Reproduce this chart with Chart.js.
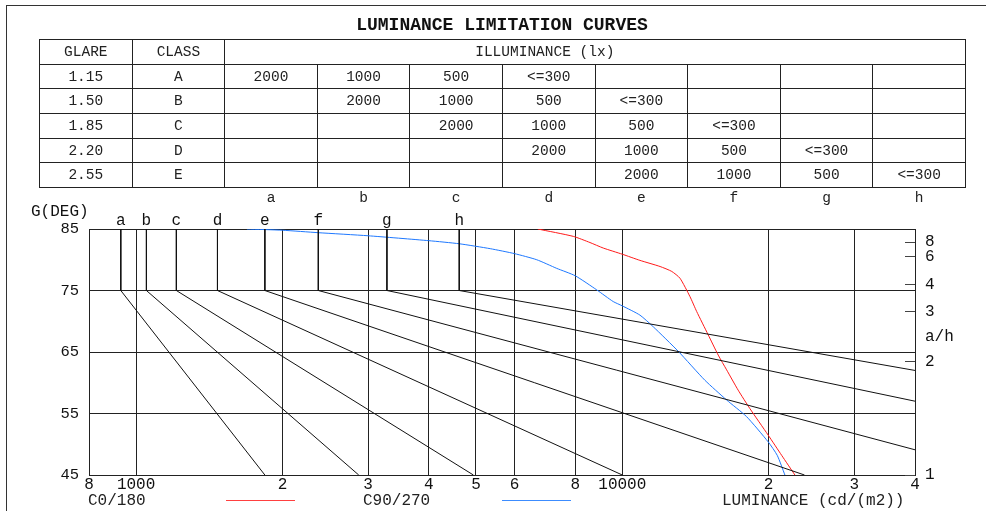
<!DOCTYPE html>
<html>
<head>
<meta charset="utf-8">
<script src="https://cdn.jsdelivr.net/npm/chart.js@4.4.1/dist/chart.umd.min.js"></script>
<style>
  html, body { margin: 0; padding: 0; background: #fff; overflow: hidden; }
  body { width: 986px; height: 511px; position: relative; font-family: "Liberation Mono", "Courier New", monospace; color: #111; }
  #frame { position: absolute; left: 6px; top: 5px; width: 1000px; height: 520px; border: 1px solid #333; }
  #title { position: absolute; left: 39px; top: 15px; width: 926px; text-align: center; font-size: 18px; font-weight: bold; line-height: 20px; }
  #glare { position: absolute; left: 39px; top: 39px; width: 927px; border-collapse: collapse; table-layout: fixed; font-size: 14.5px; color: #222; }
  #glare td { border: 1px solid #222; text-align: center; padding: 0; height: 23.7px; line-height: 16px; }
  #glare td.head { text-align: left; padding-left: 250px; }
  #glare tr.letters td { border: none; height: 20px; }
  #chartBox { position: absolute; left: 0; top: 0; width: 986px; height: 511px; }
  .leg { position: absolute; top: 492px; font-size: 16px; line-height: 18px; color: #222; }
  .legline { position: absolute; top: 500px; height: 0; border-top: 1px solid; }
</style>
</head>
<body>
<div id="frame"></div>
<div id="chartBox"><canvas id="sollner" width="986" height="511"></canvas></div>
<div id="title">LUMINANCE LIMITATION CURVES</div>
<table id="glare"></table>
<div class="leg" style="left:88px">C0/180</div>
<div class="legline" style="left:226px;width:69px;border-color:#ff4040"></div>
<div class="leg" style="left:363px">C90/270</div>
<div class="legline" style="left:502px;width:69px;border-color:#3c8cff"></div>
<div class="leg" style="left:722px">LUMINANCE (cd/(m2))</div>
<script>
/* ---------- table data ---------- */
const glareValues = ['1.15', '1.50', '1.85', '2.20', '2.55'];
const glareClasses = ['A', 'B', 'C', 'D', 'E'];
const illumRows = [
  ['2000', '1000', '500', '<=300', '', '', '', ''],
  ['', '2000', '1000', '500', '<=300', '', '', ''],
  ['', '', '2000', '1000', '500', '<=300', '', ''],
  ['', '', '', '2000', '1000', '500', '<=300', ''],
  ['', '', '', '', '2000', '1000', '500', '<=300']
];
const curveLetters = ['a', 'b', 'c', 'd', 'e', 'f', 'g', 'h'];

/* ---------- limit lines a..h (luminance at 75-85 deg, end point of slope) ---------- */
const limitLum = [930, 1050, 1210, 1470, 1840, 2370, 3280, 4620];
const limitEndLum = [1840, 2870, 4940, 10000, 23700, 40000, 40000, 40000];
const limitEndDeg = [45, 45, 45, 45, 45, 49.1, 57.0, 62.0];

/* ---------- luminance curves ---------- */
const c0Lum = [6700, 7930, 8580, 9140, 10000, 10870, 11960, 12640, 13140, 13780, 14220, 15020, 15750, 16390, 17310, 18300, 19950, 21270, 22650];
const c0Deg = [85, 83.8, 82.8, 81.9, 80.9, 79.9, 78.9, 78.1, 77.0, 74.0, 71.6, 67.8, 64.5, 62.1, 58.8, 55.8, 51.5, 48.2, 45];
const c90Lum = [1690, 2000, 2370, 3000, 4000, 4620, 5350, 6000, 6670, 7330, 8000, 8860, 9580, 10000, 10870, 11580, 13040, 14790, 16390, 18010, 19950, 20830, 21600];
const c90Deg = [85, 84.8, 84.4, 83.9, 83.1, 82.6, 81.8, 81.0, 80.0, 78.6, 77.4, 75.1, 73.2, 72.5, 71.0, 69.1, 65.1, 60.4, 57.2, 54.5, 50.4, 48.2, 45];

/* ---------- axes ---------- */
const xTicks = [800, 1000, 2000, 3000, 4000, 5000, 6000, 8000, 10000, 20000, 30000, 40000];
const xTickLabels = ['8', '1000', '2', '3', '4', '5', '6', '8', '10000', '2', '3', '4'];
const ahTicks = [1, 2, 3, 4, 6, 8];

// build the table
const table = document.getElementById('glare');
let html = '<tr><td>GLARE</td><td>CLASS</td><td class="head" colspan="8">ILLUMINANCE (lx)</td></tr>';
glareValues.forEach((g, i) => {
  html += '<tr><td>' + g + '</td><td>' + glareClasses[i] + '</td>' +
    illumRows[i].map(v => '<td>' + v.replace('<', '&lt;') + '</td>').join('') + '</tr>';
});
html += '<tr class="letters"><td></td><td></td>' + curveLetters.map(l => '<td>' + l + '</td>').join('') + '</tr>';
table.innerHTML = html;

const FONT = '"Liberation Mono", "Courier New", monospace';
const INK = '#111';

const limitSets = curveLetters.map((l, i) => ({
  label: l,
  data: [
    { x: limitLum[i], y: 85 },
    { x: limitLum[i], y: 75 },
    { x: limitEndLum[i], y: limitEndDeg[i] }
  ],
  borderColor: INK,
  borderWidth: 1,
  pointRadius: 0,
  showLine: true
}));

const topLetters = {
  id: 'topLetters',
  afterDraw(chart) {
    const { ctx, chartArea, scales } = chart;
    ctx.save();
    ctx.font = '16px ' + FONT;
    ctx.fillStyle = INK;
    ctx.textAlign = 'center';
    ctx.textBaseline = 'middle';
    curveLetters.forEach((l, i) => {
      ctx.fillText(l, scales.x.getPixelForValue(limitLum[i]), chartArea.top - 8);
    });
    ctx.textAlign = 'left';
    ctx.fillText('G(DEG)', 31, chartArea.top - 17);
    ctx.restore();
  }
};

const ahDeg = ahTicks.map(n => Math.atan(n) * 180 / Math.PI);

new Chart(document.getElementById('sollner').getContext('2d'), {
  type: 'scatter',
  data: {
    datasets: [
      ...limitSets,
      {
        label: 'C0/180',
        data: c0Lum.map((v, i) => ({ x: v, y: c0Deg[i] })),
        borderColor: '#ff1a1a',
        borderWidth: 1,
        pointRadius: 0,
        showLine: true,
        tension: 0.2
      },
      {
        label: 'C90/270',
        data: c90Lum.map((v, i) => ({ x: v, y: c90Deg[i] })),
        borderColor: '#1e78ff',
        borderWidth: 1,
        pointRadius: 0,
        showLine: true,
        tension: 0.2
      }
    ]
  },
  options: {
    responsive: false,
    animation: false,
    layout: { padding: { left: 0, right: 0, top: 229, bottom: 16 } },
    plugins: { legend: { display: false }, tooltip: { enabled: false } },
    scales: {
      x: {
        type: 'logarithmic',
        min: 800,
        max: 40000,
        afterBuildTicks: s => { s.ticks = xTicks.map(v => ({ value: v })); },
        afterFit: s => { s.height = 20; },
        grid: { color: '#222', lineWidth: 1, drawTicks: false },
        border: { display: false },
        ticks: {
          autoSkip: false,
          maxRotation: 0,
          padding: 0,
          color: INK,
          font: { family: FONT, size: 16 },
          callback: (v, i) => xTickLabels[i]
        }
      },
      y: {
        type: 'linear',
        min: 45,
        max: 85,
        afterFit: s => { s.width = 89; },
        grid: { color: '#222', lineWidth: 1, drawTicks: false },
        border: { display: false },
        ticks: { stepSize: 10, padding: 10, color: INK, font: { family: FONT, size: 15.5 } }
      },
      y2: {
        type: 'linear',
        position: 'right',
        min: 45,
        max: 85,
        afterBuildTicks: s => {
          s.ticks = ahDeg.map(v => ({ value: v })).concat([{ value: 67.5 }]);
        },
        afterFit: s => { s.width = 71; },
        grid: {
          drawOnChartArea: false,
          drawTicks: true,
          tickLength: -10,
          color: c => (c.index < ahTicks.length ? '#444' : 'rgba(0,0,0,0)')
        },
        border: { display: true, color: '#222' },
        ticks: {
          autoSkip: false,
          padding: 20,
          color: INK,
          font: { family: FONT, size: 16 },
          callback: (v, i) => (i < ahTicks.length ? String(ahTicks[i]) : 'a/h')
        }
      }
    }
  },
  plugins: [topLetters]
});
</script>
</body>
</html>
